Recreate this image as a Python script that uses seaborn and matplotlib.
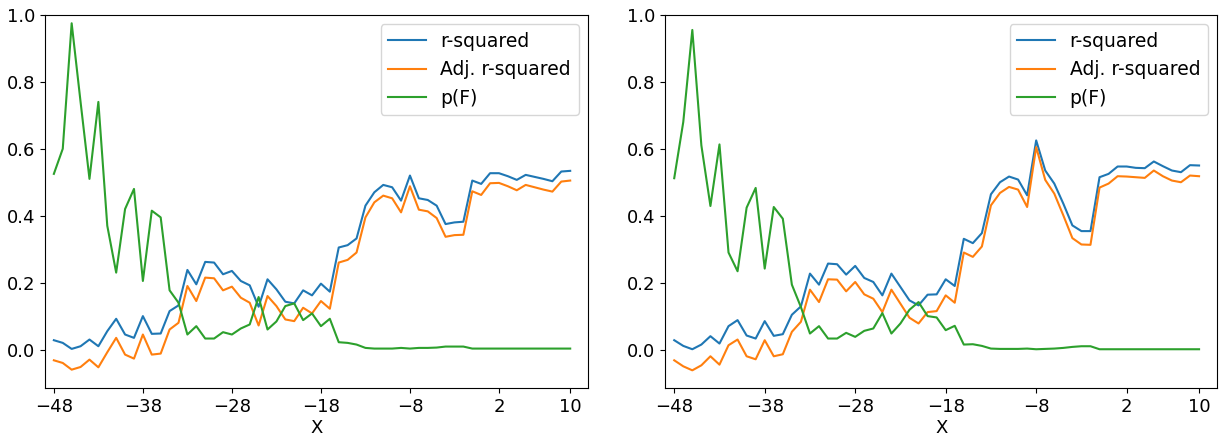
import numpy as np
import pandas as pd
import seaborn as sns
import matplotlib.pyplot as plt

x = list(range(-48, 11))

# left panel
r2_a = [0.028, 0.020, 0.002, 0.010, 0.030, 0.010, 0.055, 0.092, 0.045, 0.035,
        0.100, 0.047, 0.048, 0.115, 0.132, 0.238, 0.195, 0.262, 0.260, 0.225,
        0.235, 0.205, 0.192, 0.128, 0.210, 0.180, 0.143, 0.138, 0.177, 0.162,
        0.197, 0.173, 0.305, 0.312, 0.332, 0.430, 0.470, 0.492, 0.485, 0.445,
        0.520, 0.452, 0.447, 0.430, 0.375, 0.380, 0.382, 0.505, 0.495, 0.527,
        0.527, 0.518, 0.507, 0.522, 0.516, 0.510, 0.503, 0.532, 0.534]
adj_a = [-0.032, -0.040, -0.060, -0.052, -0.030, -0.053, -0.008, 0.035, -0.015, -0.027,
         0.045, -0.015, -0.012, 0.060, 0.080, 0.190, 0.145, 0.215, 0.213, 0.177,
         0.188, 0.155, 0.140, 0.072, 0.160, 0.130, 0.090, 0.085, 0.125, 0.108,
         0.145, 0.122, 0.260, 0.268, 0.290, 0.395, 0.440, 0.460, 0.452, 0.410,
         0.488, 0.418, 0.413, 0.393, 0.337, 0.342, 0.343, 0.473, 0.462, 0.497,
         0.498, 0.488, 0.476, 0.492, 0.485, 0.478, 0.472, 0.502, 0.505]
pf_a = [0.525, 0.600, 0.975, 0.740, 0.510, 0.740, 0.370, 0.230, 0.420, 0.480,
        0.205, 0.415, 0.395, 0.177, 0.140, 0.045, 0.070, 0.033, 0.033, 0.052,
        0.045, 0.063, 0.075, 0.157, 0.060, 0.084, 0.130, 0.138, 0.088, 0.108,
        0.070, 0.092, 0.022, 0.020, 0.015, 0.005, 0.003, 0.003, 0.003, 0.005,
        0.003, 0.005, 0.005, 0.006, 0.009, 0.009, 0.009, 0.003, 0.003, 0.003,
        0.003, 0.003, 0.003, 0.003, 0.003, 0.003, 0.003, 0.003, 0.003]

# right panel
r2_b = [0.028, 0.011, 0.001, 0.015, 0.040, 0.018, 0.070, 0.088, 0.042, 0.033,
        0.085, 0.041, 0.046, 0.104, 0.129, 0.227, 0.194, 0.257, 0.255, 0.224,
        0.250, 0.214, 0.202, 0.162, 0.227, 0.187, 0.147, 0.132, 0.164, 0.165,
        0.210, 0.190, 0.331, 0.318, 0.348, 0.464, 0.500, 0.517, 0.508, 0.461,
        0.625, 0.535, 0.496, 0.436, 0.371, 0.354, 0.354, 0.515, 0.525, 0.547,
        0.547, 0.543, 0.542, 0.562, 0.548, 0.535, 0.530, 0.551, 0.550]
adj_b = [-0.032, -0.050, -0.062, -0.047, -0.020, -0.045, 0.013, 0.030, -0.020, -0.029,
         0.028, -0.020, -0.014, 0.053, 0.083, 0.179, 0.142, 0.210, 0.209, 0.174,
         0.202, 0.165, 0.152, 0.112, 0.179, 0.137, 0.095, 0.078, 0.112, 0.115,
         0.162, 0.140, 0.290, 0.277, 0.308, 0.431, 0.468, 0.486, 0.478, 0.426,
         0.605, 0.507, 0.466, 0.401, 0.333, 0.314, 0.313, 0.484, 0.496, 0.518,
         0.517, 0.515, 0.513, 0.535, 0.518, 0.505, 0.500, 0.520, 0.518]
pf_b = [0.512, 0.680, 0.955, 0.610, 0.429, 0.613, 0.290, 0.234, 0.424, 0.483,
        0.242, 0.426, 0.391, 0.194, 0.127, 0.048, 0.070, 0.033, 0.033, 0.050,
        0.038, 0.056, 0.063, 0.109, 0.048, 0.078, 0.119, 0.142, 0.100, 0.096,
        0.058, 0.071, 0.015, 0.016, 0.011, 0.003, 0.002, 0.002, 0.002, 0.003,
        0.001, 0.002, 0.003, 0.005, 0.008, 0.010, 0.010, 0.001, 0.001, 0.001,
        0.001, 0.001, 0.001, 0.001, 0.001, 0.001, 0.001, 0.001, 0.001]

labels = ["r-squared", "Adj. r-squared", "p(F)"]
xticks = [-48, -38, -28, -18, -8, 2, 10]

plt.rcParams["font.size"] = 13
fig = plt.figure(figsize=(12.25, 4.38), dpi=100)
ax1 = fig.add_axes([0.0367, 0.114, 0.4433, 0.852])
ax2 = fig.add_axes([0.543, 0.114, 0.4506, 0.852])

panels = [(ax1, [r2_a, adj_a, pf_a]), (ax2, [r2_b, adj_b, pf_b])]
colors = sns.color_palette("tab10", 3)

for ax, series in panels:
    for vals, lab, c in zip(series, labels, colors):
        df = pd.DataFrame({"X": x, "val": vals})
        sns.lineplot(data=df, x="X", y="val", ax=ax, label=lab, color=c, linewidth=1.5)
    ax.set_xlim(-49, 12)
    ax.set_ylim(-0.115, 1.0)
    ax.set_xticks(xticks)
    ax.set_ylabel("")
    ax.set_xlabel("X", labelpad=2)
    ax.legend(loc="upper right", fontsize=13.5)

fig.savefig("out.png", dpi=100)
